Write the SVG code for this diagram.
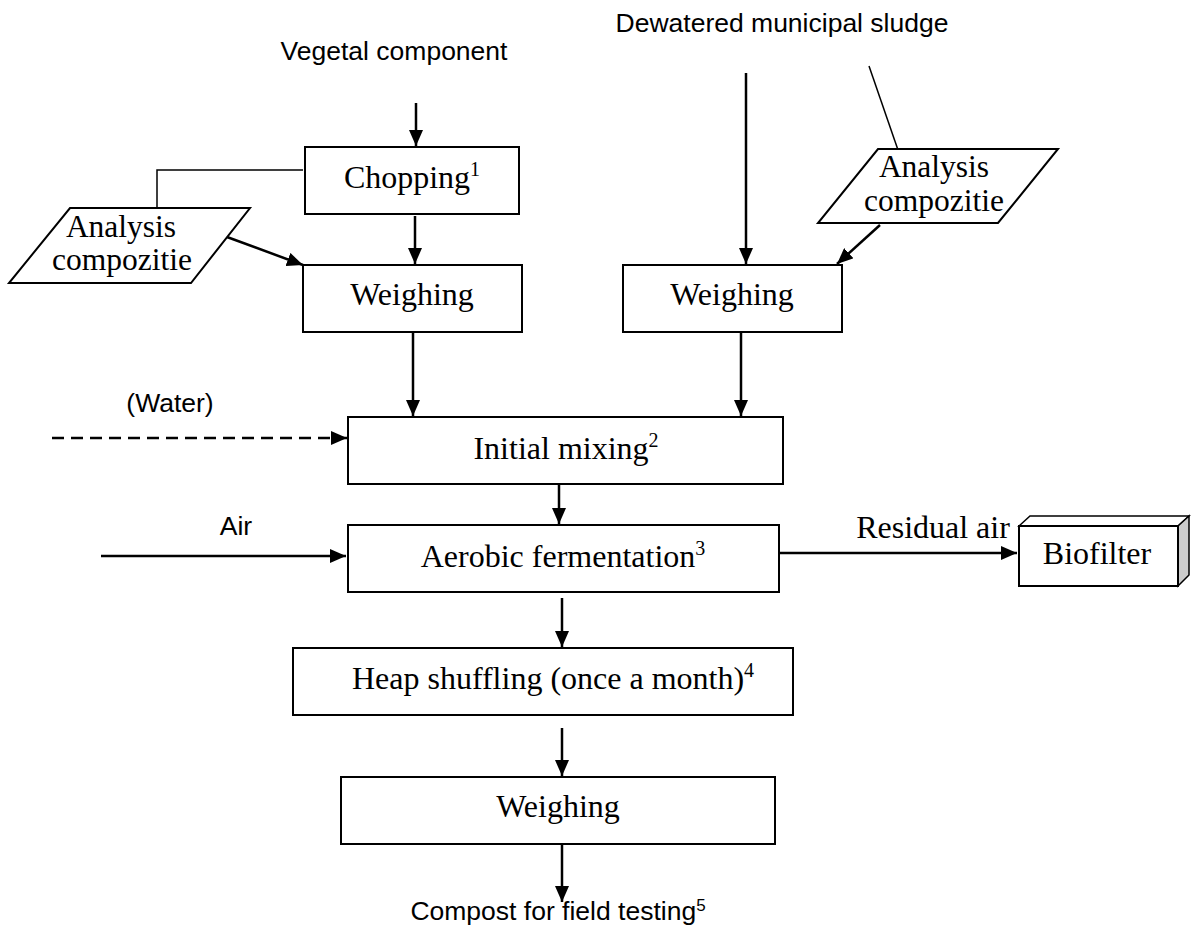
<svg xmlns="http://www.w3.org/2000/svg" width="1198" height="927" viewBox="0 0 1198 927">
<style>
.box{fill:#fff;stroke:#000;stroke-width:2}
.t{font-family:"Liberation Serif","Times New Roman",serif;font-size:32px;fill:#000;text-anchor:middle}
.p{font-family:"Liberation Serif","Times New Roman",serif;font-size:31.5px;fill:#000;text-anchor:middle}
.a{font-family:"Liberation Sans",Arial,sans-serif;font-size:26.5px;fill:#000;text-anchor:middle}
.ln{fill:none;stroke:#000;stroke-width:2.5}
.thin{fill:none;stroke:#000;stroke-width:1.5}
.arr{marker-end:url(#ah)}
</style>
<defs>
<marker id="ah" viewBox="0 0 16 14" refX="16" refY="7" markerWidth="16" markerHeight="14" markerUnits="userSpaceOnUse" orient="auto">
<path d="M0,0 L16,7 L0,14 Z" fill="#000"/>
</marker>
</defs>
<rect width="1198" height="927" fill="#fff"/>

<text class="a" x="394" y="60">Vegetal component</text>
<text class="a" x="782" y="32">Dewatered municipal sludge</text>
<text class="a" x="170" y="412">(Water)</text>
<text class="a" x="236" y="535">Air</text>

<g id="connectors">
<line class="ln arr" x1="416" y1="103" x2="416" y2="146"/>
<line class="ln arr" x1="415" y1="216" x2="415" y2="264"/>
<polyline class="thin" points="157,208 157,170 303,170"/>
<line class="ln arr" x1="227" y1="237" x2="303" y2="265"/>
<line class="ln arr" x1="746" y1="73" x2="746" y2="264"/>
<line class="thin" x1="869" y1="66" x2="898" y2="150"/>
<line class="ln arr" x1="880" y1="225" x2="837" y2="264"/>
<line class="ln arr" x1="413" y1="333" x2="413" y2="416"/>
<line class="ln arr" x1="741" y1="333" x2="741" y2="416"/>
<line class="ln arr" x1="52" y1="438" x2="347" y2="438" stroke-dasharray="12 7"/>
<line class="ln arr" x1="559" y1="478" x2="559" y2="524"/>
<line class="ln arr" x1="101" y1="556" x2="346" y2="556"/>
<line class="ln arr" x1="780" y1="553" x2="1017" y2="553"/>
<line class="ln arr" x1="562" y1="598" x2="562" y2="647"/>
<line class="ln arr" x1="562" y1="728" x2="562" y2="776"/>
<line class="ln arr" x1="562" y1="845" x2="562" y2="902"/>
</g>

<g id="chopping">
<rect class="box" x="305" y="147" width="214" height="67"/>
<text class="t" x="412" y="188">Chopping<tspan font-size="20" dy="-12">1</tspan></text>
</g>

<g id="analysis-left">
<polygon class="box" points="70,208 250,208 191,283 9,283"/>
<text class="p" x="121" y="237">Analysis</text>
<text class="p" x="122" y="270">compozitie</text>
</g>

<g id="weighing-left">
<rect class="box" x="303" y="265" width="219" height="67"/>
<text class="t" x="412" y="305">Weighing</text>
</g>

<g id="analysis-right">
<polygon class="box" points="878,149 1058,149 998,223 818,223"/>
<text class="p" x="934" y="177">Analysis</text>
<text class="p" x="934" y="211">compozitie</text>
</g>

<g id="weighing-right">
<rect class="box" x="623" y="265" width="219" height="67"/>
<text class="t" x="732" y="305">Weighing</text>
</g>

<g id="initial-mixing">
<rect class="box" x="348" y="417" width="435" height="67"/>
<text class="t" x="566" y="459">Initial mixing<tspan font-size="20" dy="-12">2</tspan></text>
</g>

<g id="aerobic">
<rect class="box" x="348" y="525" width="431" height="67"/>
<text class="t" x="563" y="567">Aerobic fermentation<tspan font-size="20" dy="-12">3</tspan></text>
</g>

<text class="t" x="933" y="538">Residual air</text>

<g id="biofilter">
<polygon points="1019,526 1030,516 1189,516 1178,526" fill="#fff" stroke="#000" stroke-width="1.5"/>
<polygon points="1178,526 1189,516 1189,575 1178,586" fill="#cccccc" stroke="#000" stroke-width="1.5"/>
<rect class="box" x="1019" y="526" width="159" height="60"/>
<text class="t" x="1097" y="564">Biofilter</text>
</g>

<g id="heap">
<rect class="box" x="293" y="648" width="500" height="67"/>
<text class="t" x="553" y="689">Heap shuffling (once a month)<tspan font-size="20" dy="-12">4</tspan></text>
</g>

<g id="weighing-bottom">
<rect class="box" x="341" y="777" width="434" height="67"/>
<text class="t" x="558" y="817">Weighing</text>
</g>

<text class="a" x="558" y="920">Compost for field testing<tspan font-size="17" dy="-9">5</tspan></text>
</svg>
